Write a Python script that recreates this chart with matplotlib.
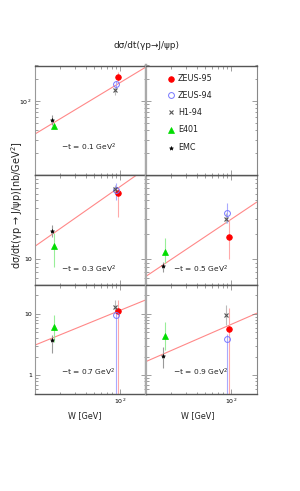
import matplotlib
matplotlib.use('Agg')
import matplotlib.pyplot as plt
from matplotlib.ticker import FixedLocator, FixedFormatter, LogLocator, NullFormatter

# ---------------- data ----------------
t_values = [0.1, 0.3, 0.5, 0.7, 0.9]
panel_labels = ["\u2212t = 0.1 GeV$^2$", "\u2212t = 0.3 GeV$^2$", "\u2212t = 0.5 GeV$^2$",
                "\u2212t = 0.7 GeV$^2$", "\u2212t = 0.9 GeV$^2$"]

W_zeus95 = 95.0
W_zeus94 = 91.0
W_h1 = 87.0
W_e401 = 16.8
W_emc = 16.2

zeus95 = [210, 61.6, 18.4, 11.1, 5.7]
zeus95_lo = [187, 32, 10, 0.3, 0.3]
zeus95_hi = [247, 72.6, 29.3, 16.8, 12.3]

zeus94 = [169, 66, 35, 9.6, 3.9]
zeus94_lo = [143, 50, 26.7, 0.3, 0.3]
zeus94_hi = [187, 80, 46, 11.5, 4.8]

h1 = [140, 68, 30.3, 13.1, 9.7]
h1_lo = [120, 60, 26.7, 10.3, 6.6]
h1_hi = [155, 76, 35, 16.8, 13.9]

e401 = [46, 14.4, 12.3, 6.05, 4.4]
e401_lo = [42.6, 8.1, 8.9, 3.54, 2.6]
e401_hi = [49.8, 20.3, 17.7, 9.6, 7.5]

emc = [55, 21.6, 8.4, 3.77, 2.07]
emc_lo = [47, 18.5, 7.1, 2.3, 1.3]
emc_hi = [64.6, 25.5, 9.3, 4.5, 2.9]

# fitted line: value at W = 10 and W = 200 GeV
fit_W = [10, 200]
fit_at_10 = [35.4, 14.1, 6.2, 3.09, 1.67]
fit_at_200 = [284, 118.5, 47.4, 16.8, 10.2]

x_range = (10, 200)
row_ylims = [(10, 300), (5, 100), (0.5, 30)]
row_ylabels = [([100], ["10$^2$"]), ([10], ["10"]), ([1, 10], ["1", "10"])]

series_names = ["ZEUS-95", "ZEUS-94", "H1-94", "E401", "EMC"]

# ---------------- styles ----------------
styles = {
    "ZEUS-95": dict(marker='o', ms=4.0, mfc='#ff0000', mec='#ff0000', mew=0.6, ecolor='#ffaaaa'),
    "ZEUS-94": dict(marker='o', ms=4.2, mfc='none', mec='#7777ff', mew=0.7, ecolor='#aaaaff'),
    "H1-94": dict(marker='x', ms=3.4, mfc='#555555', mec='#555555', mew=0.8, ecolor='#bbbbbb'),
    "E401": dict(marker='^', ms=4.0, mfc='#00dd00', mec='#00dd00', mew=0.5, ecolor='#99ee99'),
    "EMC": dict(marker='*', ms=3.0, mfc='#000000', mec='#000000', mew=0.4, ecolor='#999999'),
}

W_px, H_px = 300, 491
fig = plt.figure(figsize=(W_px / 100, H_px / 100), dpi=100)

col_x = [34.5, 145.5]
col_w = 111.0
row_top = [65.5, 175.0, 284.5]
row_h = 109.5

FS = 5.8


def make_ax(r, c):
    x0 = col_x[c] / W_px
    y0 = 1 - (row_top[r] + row_h) / H_px
    ax = fig.add_axes([x0, y0, col_w / W_px, row_h / H_px])
    ax.set_xscale('log')
    ax.set_yscale('log')
    ax.set_xlim(*x_range)
    ax.set_ylim(*row_ylims[r])
    ax.tick_params(which='both', direction='in', top=True, right=True,
                   color='#777777', width=0.5, labelsize=4.5, pad=2)
    ax.tick_params(which='major', length=3.5)
    ax.tick_params(which='minor', length=1.8)
    ax.xaxis.set_major_locator(FixedLocator([100]))
    ax.xaxis.set_minor_locator(LogLocator(base=10, subs=range(2, 10)))
    ax.xaxis.set_minor_formatter(NullFormatter())
    if r == 2:
        ax.xaxis.set_major_formatter(FixedFormatter(["10$^2$"]))
    else:
        ax.xaxis.set_major_formatter(FixedFormatter([""]))
    locs, labs = row_ylabels[r]
    ax.yaxis.set_major_locator(FixedLocator(locs))
    ax.yaxis.set_minor_locator(LogLocator(base=10, subs=range(2, 10)))
    ax.yaxis.set_minor_formatter(NullFormatter())
    if c == 0:
        ax.yaxis.set_major_formatter(FixedFormatter(labs))
    else:
        ax.yaxis.set_major_formatter(FixedFormatter([""] * len(locs)))
    for side in ['top', 'bottom']:
        ax.spines[side].set_color('#555555')
        ax.spines[side].set_linewidth(1.0)
    ax.spines['left'].set_color('#999999' if c == 0 else '#aaaaaa')
    ax.spines['left'].set_linewidth(0.8 if c == 0 else 1.6)
    ax.spines['right'].set_color('#aaaaaa' if c == 0 else '#888888')
    ax.spines['right'].set_linewidth(1.6 if c == 0 else 0.8)
    return ax


panel_pos = [(0, 0), (1, 0), (1, 1), (2, 0), (2, 1)]
label_pos = [(0.24, 0.25), (0.24, 0.14), (0.25, 0.14), (0.24, 0.195), (0.25, 0.195)]

data_sets = {
    "ZEUS-95": (W_zeus95, zeus95, zeus95_lo, zeus95_hi),
    "ZEUS-94": (W_zeus94, zeus94, zeus94_lo, zeus94_hi),
    "H1-94": (W_h1, h1, h1_lo, h1_hi),
    "E401": (W_e401, e401, e401_lo, e401_hi),
    "EMC": (W_emc, emc, emc_lo, emc_hi),
}

for i, (r, c) in enumerate(panel_pos):
    ax = make_ax(r, c)
    ax.plot(fit_W, [fit_at_10[i], fit_at_200[i]], color='#ff8888', lw=0.8, zorder=1)
    for name in series_names:
        Wv, vals, lo, hi = data_sets[name]
        st = styles[name]
        v = vals[i]
        ax.errorbar([Wv], [v], yerr=[[v - lo[i]], [hi[i] - v]], fmt='none',
                    ecolor=st['ecolor'], elinewidth=0.8, capsize=0, zorder=2)
        ax.plot([Wv], [v], linestyle='none', marker=st['marker'], ms=st['ms'],
                mfc=st['mfc'], mec=st['mec'], mew=st['mew'], zorder=3)
    lx, ly = label_pos[i]
    ax.text(lx, ly, panel_labels[i], transform=ax.transAxes, fontsize=5.4,
            ha='left', va='center', color='#222222')

# legend panel (top right)
lax = make_ax(0, 1)
leg_y = [0.877, 0.73, 0.575, 0.411, 0.249]
for name, yy in zip(series_names, leg_y):
    st = styles[name]
    lax.plot([0.23], [yy], transform=lax.transAxes, linestyle='none', marker=st['marker'],
             ms=st['ms'], mfc=st['mfc'], mec=st['mec'], mew=st['mew'])
    lax.text(0.293, yy, name, transform=lax.transAxes, fontsize=FS, ha='left',
             va='center', color='#222222')

# titles and axis labels
fig.text(147 / W_px, 1 - 46 / H_px, "d\u03c3/dt(\u03b3p\u2192J/\u03c8p)", fontsize=6.4,
         ha='center', va='center', color='#222222')
fig.text(17 / W_px, 1 - 205 / H_px, "d\u03c3/dt(\u03b3p \u2192 J/\u03c8p)[nb/GeV$^2$]",
         fontsize=7.0, rotation=90, ha='center', va='center', color='#222222')
for cx in [85, 198]:
    fig.text(cx / W_px, 1 - 415.7 / H_px, "W [GeV]", fontsize=5.8, ha='center',
             va='center', color='#222222')

fig.savefig('out.png', dpi=100, facecolor='white')
